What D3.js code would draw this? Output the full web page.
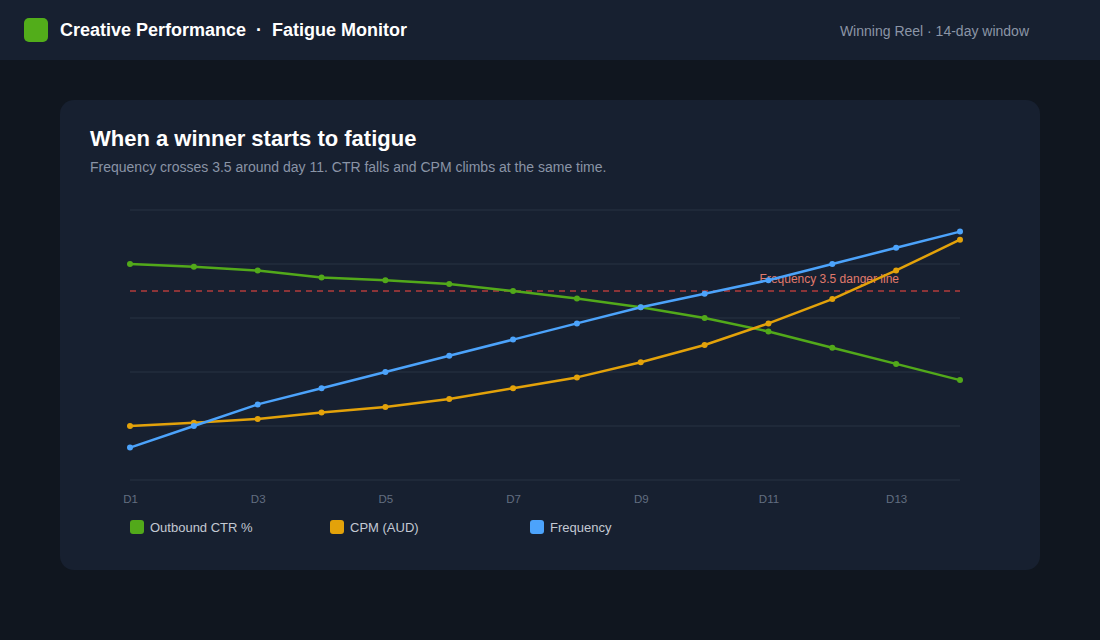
<!DOCTYPE html>
<html>
<head>
<meta charset="utf-8">
<script src="https://cdn.jsdelivr.net/npm/d3@7"></script>
<style>
  html, body { margin: 0; padding: 0; background: #10161f; }
  svg { display: block; font-family: "Liberation Sans", Arial, sans-serif; }
</style>
</head>
<body>
<div id="chart"></div>
<script>
// data (plotted on one shared 0-5 scale)
var days = ["D1","D2","D3","D4","D5","D6","D7","D8","D9","D10","D11","D12","D13","D14"];
var ctr = [4.0, 3.95, 3.88, 3.75, 3.7, 3.63, 3.5, 3.36, 3.2, 3.0, 2.75, 2.45, 2.15, 1.85];
var cpm = [1.0, 1.06, 1.13, 1.25, 1.35, 1.5, 1.7, 1.9, 2.18, 2.5, 2.9, 3.35, 3.88, 4.45];
var frequency = [0.6, 1.0, 1.4, 1.7, 2.0, 2.3, 2.6, 2.9, 3.2, 3.45, 3.7, 4.0, 4.3, 4.6];
var tickDays = ["D1","D3","D5","D7","D9","D11","D13"];
var gridValues = [0, 1, 2, 3, 4, 5];
var dangerLevel = 3.5;

var series = [
  {name: "Outbound CTR %", values: ctr, color: "#52a91a"},
  {name: "CPM (AUD)", values: cpm, color: "#e3a20a"},
  {name: "Frequency", values: frequency, color: "#4ca3fb"}
];

var W = 1100, H = 640;
var svg = d3.select("#chart").append("svg")
  .attr("width", W)
  .attr("height", H);

svg.append("rect").attr("width", W).attr("height", H).attr("fill", "#10161f");

// header bar
svg.append("rect").attr("width", W).attr("height", 60).attr("fill", "#172030");
svg.append("rect")
  .attr("x", 24).attr("y", 18).attr("width", 24).attr("height", 24)
  .attr("rx", 5).attr("fill", "#52ad1a");
var head = svg.append("text")
  .attr("x", 60).attr("y", 36)
  .attr("fill", "#ffffff")
  .style("font-size", "18px").style("font-weight", "bold");
head.append("tspan").text("Creative Performance");
head.append("tspan").attr("dx", 10).text("·");
head.append("tspan").attr("dx", 10).text("Fatigue Monitor");

svg.append("text")
  .attr("x", 1029).attr("y", 36)
  .attr("text-anchor", "end")
  .attr("fill", "#8b95a6")
  .style("font-size", "14px")
  .text("Winning Reel · 14-day window");

// card
svg.append("rect")
  .attr("x", 60).attr("y", 100).attr("width", 980).attr("height", 470)
  .attr("rx", 14).attr("fill", "#172030");

svg.append("text")
  .attr("x", 90).attr("y", 146)
  .attr("fill", "#ffffff")
  .style("font-size", "22px").style("font-weight", "bold")
  .text("When a winner starts to fatigue");

svg.append("text")
  .attr("x", 90).attr("y", 172)
  .attr("fill", "#8a94a6")
  .style("font-size", "14px")
  .text("Frequency crosses 3.5 around day 11. CTR falls and CPM climbs at the same time.");

// scales
var x = d3.scalePoint().domain(days).range([130, 960]);
var y = d3.scaleLinear().domain([0, 5]).range([480, 210]);

var g = svg.append("g");

// gridlines
g.selectAll(".grid")
  .data(gridValues)
  .enter()
  .append("line")
  .attr("x1", x.range()[0]).attr("x2", x.range()[1])
  .attr("y1", d => y(d)).attr("y2", d => y(d))
  .attr("stroke", "#232d3c")
  .attr("stroke-width", 1.5);

// x axis labels
var xAxis = d3.axisBottom(x).tickValues(tickDays).tickSize(0).tickPadding(0);
var ax = g.append("g")
  .attr("transform", "translate(0," + 495 + ")")
  .call(xAxis);
ax.select(".domain").remove();
ax.selectAll("text")
  .attr("fill", "#626e80")
  .style("font-size", "11.5px")
  .style("font-family", "'Liberation Sans', Arial, sans-serif");

// danger line
g.append("line")
  .attr("x1", x.range()[0]).attr("x2", x.range()[1])
  .attr("y1", y(dangerLevel)).attr("y2", y(dangerLevel))
  .attr("stroke", "#b33b3b")
  .attr("stroke-width", 1.5)
  .attr("stroke-dasharray", "6 5");

g.append("text")
  .attr("x", x.range()[1] - 61).attr("y", y(dangerLevel) - 8)
  .attr("text-anchor", "end")
  .attr("fill", "#e07a6c")
  .style("font-size", "12px")
  .text("Frequency 3.5 danger line");

// lines + dots
var line = d3.line()
  .x((d, i) => x(days[i]))
  .y(d => y(d));

series.forEach(function(s) {
  g.append("path")
    .datum(s.values)
    .attr("d", line)
    .attr("fill", "none")
    .attr("stroke", s.color)
    .attr("stroke-width", 2.5)
    .attr("stroke-linejoin", "round");
  g.selectAll(null)
    .data(s.values)
    .enter()
    .append("circle")
    .attr("cx", (d, i) => x(days[i]))
    .attr("cy", d => y(d))
    .attr("r", 3)
    .attr("fill", s.color);
});

// legend
var legend = svg.append("g").selectAll("g")
  .data(series)
  .enter()
  .append("g")
  .attr("transform", (d, i) => "translate(" + (130 + i * 200) + ",520)");
legend.append("rect")
  .attr("width", 14).attr("height", 14).attr("rx", 3)
  .attr("fill", d => d.color);
legend.append("text")
  .attr("x", 20).attr("y", 12)
  .attr("fill", "#c3c9d3")
  .style("font-size", "13px")
  .text(d => d.name);
</script>
</body>
</html>
